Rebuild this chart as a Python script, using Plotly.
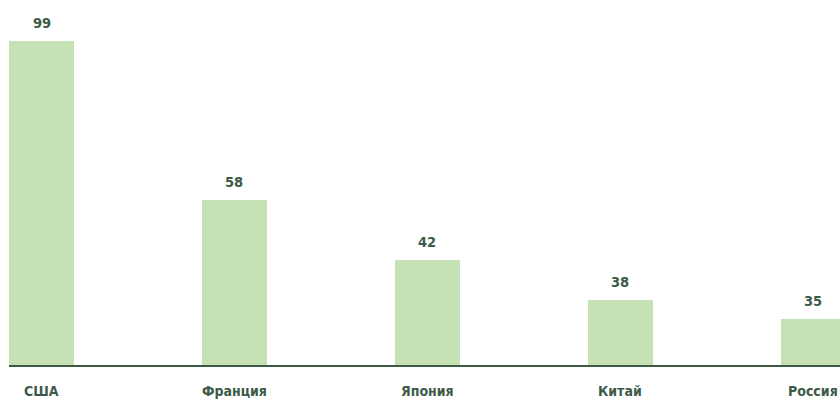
import plotly.graph_objects as go

countries = ['США', 'Франция', 'Япония', 'Китай', 'Россия']
values = [99, 58, 42, 38, 35]
# bar lengths as drawn in the picture (not proportional to the printed values)
bar_heights = [99, 50.4, 32.1, 19.9, 14.1]

txt_color = '#3d5a48'
bar_color = '#c6e2b5'
font_name = 'DejaVu Sans Condensed, Roboto, sans-serif'

xs = list(range(len(countries)))

fig = go.Figure()
fig.add_trace(go.Bar(x=xs, y=bar_heights, width=0.337,
                     marker=dict(color=bar_color, line=dict(width=0)),
                     hoverinfo='skip'))

# value labels above the bars
for x, h, v in zip(xs, bar_heights, values):
    fig.add_annotation(x=x, y=h, text='<b>%d</b>' % v, showarrow=False,
                       yanchor='bottom', yshift=8,
                       font=dict(family=font_name, size=14.5, color=txt_color))

# country names under the axis line
for x, c in zip(xs, countries):
    fig.add_annotation(x=x, y=0, yref='paper', text='<b>%s</b>' % c,
                       showarrow=False, yanchor='top', yshift=-16,
                       font=dict(family=font_name, size=14, color=txt_color))

fig.update_layout(
    width=840, height=401,
    margin=dict(l=9, r=0, t=0, b=36),
    paper_bgcolor='white', plot_bgcolor='white',
    showlegend=False,
    bargap=0,
    xaxis=dict(range=[-0.1684, 4.1376], showgrid=False, zeroline=False,
               showline=True, linecolor='#3d5a45', linewidth=2,
               showticklabels=False, ticks=''),
    yaxis=dict(range=[0, 111.5], visible=False, showgrid=False, zeroline=False),
)

fig.write_html("out.html", config={'displayModeBar': False},
               post_script="document.body.style.margin='0';")
